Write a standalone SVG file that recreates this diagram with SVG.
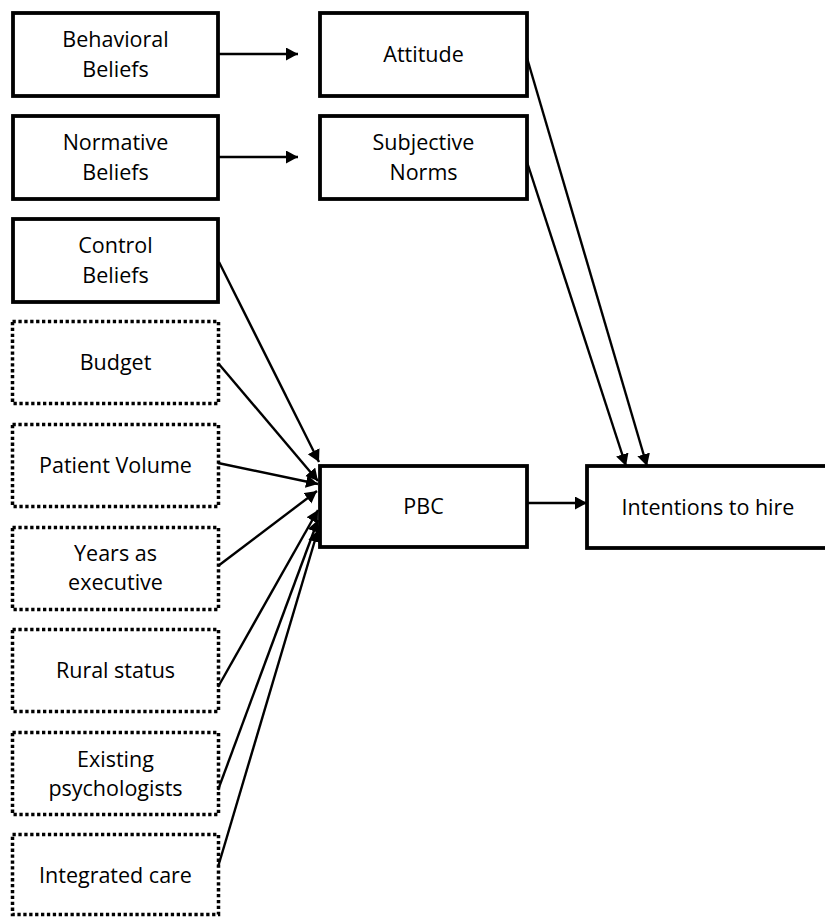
<svg xmlns="http://www.w3.org/2000/svg" width="825" height="917" viewBox="0 0 825 917">
<style>
  .box{fill:#fff;stroke:#000;stroke-width:3.8}
  .dot{fill:#fff;stroke:#000;stroke-width:3.5;stroke-dasharray:3.3 2.6}
  text{font-family:"Open Sans","Liberation Sans",sans-serif;font-size:21.5px;fill:#000;text-anchor:middle}
  .conn line{stroke:#000;stroke-width:2.4;marker-end:url(#ah)}
</style>
<defs>
  <marker id="ah" markerUnits="userSpaceOnUse" markerWidth="14" markerHeight="14" refX="12" refY="6.5" orient="auto">
    <path d="M0,0 L12,6.5 L0,13 z" fill="#000"/>
  </marker>
</defs>
<rect width="825" height="917" fill="#fff"/>
<g id="behavioral"><rect class="box" x="13" y="13" width="205" height="83"/><text x="115.5" y="47">Behavioral</text><text x="115.5" y="77">Beliefs</text></g>
<g id="normative"><rect class="box" x="13" y="116" width="205" height="83"/><text x="115.5" y="150">Normative</text><text x="115.5" y="180">Beliefs</text></g>
<g id="control"><rect class="box" x="13" y="219" width="205" height="83"/><text x="115.5" y="253">Control</text><text x="115.5" y="283">Beliefs</text></g>
<g id="budget"><rect class="dot" x="12.5" y="321.5" width="206" height="82"/><text x="115.5" y="370">Budget</text></g>
<g id="patient"><rect class="dot" x="12.5" y="424.5" width="206" height="82"/><text x="115.5" y="473">Patient Volume</text></g>
<g id="years"><rect class="dot" x="12.5" y="527.5" width="206" height="82"/><text x="115.5" y="561">Years as</text><text x="115.5" y="590">executive</text></g>
<g id="rural"><rect class="dot" x="12.5" y="629.5" width="206" height="82"/><text x="115.5" y="678">Rural status</text></g>
<g id="existing"><rect class="dot" x="12.5" y="732.5" width="206" height="82"/><text x="115.5" y="767">Existing</text><text x="115.5" y="796">psychologists</text></g>
<g id="integrated"><rect class="dot" x="12.5" y="834.5" width="206" height="80"/><text x="115.5" y="883">Integrated care</text></g>
<g id="attitude"><rect class="box" x="320" y="13" width="207" height="83"/><text x="423.5" y="62">Attitude</text></g>
<g id="subjective"><rect class="box" x="320" y="116" width="207" height="83"/><text x="423.5" y="150">Subjective</text><text x="423.5" y="180">Norms</text></g>
<g id="pbc"><rect class="box" x="320" y="466" width="207" height="81"/><text x="423.5" y="514">PBC</text></g>
<g id="intentions"><rect class="box" x="587" y="466" width="260" height="82"/><text x="708" y="515">Intentions to hire</text></g>
<g id="connectors" class="conn">
  <line x1="218" y1="54" x2="298" y2="54"/>
  <line x1="218" y1="157" x2="298" y2="157"/>
  <line x1="527" y1="58" x2="647" y2="466"/>
  <line x1="527" y1="162" x2="626" y2="466"/>
  <line x1="527" y1="503" x2="587" y2="503"/>
  <line x1="219" y1="262" x2="319" y2="462"/>
  <line x1="218" y1="363" x2="318" y2="481"/>
  <line x1="218" y1="463" x2="318" y2="484"/>
  <line x1="218" y1="566" x2="317" y2="491"/>
  <line x1="218" y1="687" x2="318" y2="510"/>
  <line x1="218" y1="790" x2="318" y2="520"/>
  <line x1="218" y1="867" x2="318" y2="530"/>
</g>
</svg>
